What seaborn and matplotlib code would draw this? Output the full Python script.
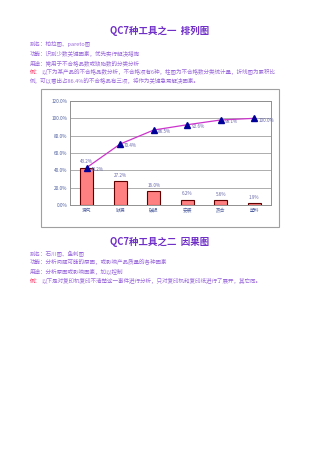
import matplotlib
matplotlib.use("Agg")
import matplotlib.pyplot as plt
import seaborn as sns
import pandas as pd
from matplotlib.patches import Rectangle

sns.set_theme(style="white")
plt.rcParams['font.family'] = ['Noto Sans CJK SC', 'DejaVu Sans']

categories = ["漏气", "缺漏", "破损", "安装", "热合", "塑料"]
bar_values = [43.2, 27.2, 16.0, 6.2, 5.6, 1.9]
cum_values = [43.2, 70.4, 86.5, 92.6, 98.1, 100.0]
y_ticks = [0, 20, 40, 60, 80, 100, 120]

title1 = "QC7种工具之一  排列图"
lines1 = ["别名：柏拉图、pareto图",
          "功能：识别少数关键因素，优先实行解决措施",
          "用途：常用于不合格品数或缺陷数的分类分析"]
ex1a = "以下为某产品的不合格品数分析，不合格项有6种，柱图为不合格数分类统计量，折线图为累积比"
ex1b = "例，可以看出占86.4%的不合格品有三项，将作为关键急需解决因素。"
title2 = "QC7种工具之二  因果图"
lines2 = ["别名：石川图、鱼刺图",
          "功能：分析问题可能的原因，或影响产品质量的各种因素",
          "用途：分析原因或影响因素，加以控制"]
ex2 = "以下是对复印机复印不清楚这一事件进行分析，只对复印机和复印纸进行了展开，其它同。"

W, H = 320, 453
fig = plt.figure(figsize=(W/100, H/100), dpi=100)
fig.patch.set_facecolor("white")

def fy(py):
    return 1 - py / H

def fx(px):
    return px / W

title_c = "#7030C8"
body_c = "#9A6ADB"
red_c = "#FF3060"
fs = 4.0

fig.text(0.5, fy(31), title1, ha="center", va="center", fontsize=6.8,
         fontweight="bold", color=title_c)
for i, t in enumerate(lines1):
    fig.text(fx(30), fy(44 + i * 9.4), t, ha="left", va="center", fontsize=fs, color=body_c)
fig.text(fx(30), fy(72.5), "例：", ha="left", va="center", fontsize=fs, color=red_c)
fig.text(fx(41.5), fy(72.5), ex1a, ha="left", va="center", fontsize=fs, color=body_c)
fig.text(fx(30), fy(81.5), ex1b, ha="left", va="center", fontsize=fs, color=body_c)

fig.text(0.5, fy(242), title2, ha="center", va="center", fontsize=6.8,
         fontweight="bold", color=title_c)
for i, t in enumerate(lines2):
    fig.text(fx(30), fy(253 + i * 9.4), t, ha="left", va="center", fontsize=fs, color=body_c)
fig.text(fx(30), fy(281.5), "例：", ha="left", va="center", fontsize=fs, color=red_c)
fig.text(fx(41.5), fy(281.5), ex2, ha="left", va="center", fontsize=fs, color=body_c)

# outer chart frame
fig.patches.append(Rectangle((fx(41), fy(227)), (279 - 41) / W, (227 - 89) / H,
                             transform=fig.transFigure, fill=False,
                             edgecolor="#A0A0A0", linewidth=0.8))

ax = fig.add_axes([fx(70), fy(205), 201 / W, 104 / H])
df = pd.DataFrame({"cat": categories, "val": bar_values, "cum": cum_values})
sns.barplot(data=df, x="cat", y="val", ax=ax, color="#FF8080", width=0.4,
            edgecolor="#600000", linewidth=0.8, saturation=1)
ax.plot(range(len(categories)), cum_values, color="#CC33CC", linewidth=0.9,
        marker="^", markersize=4, markerfacecolor="#000099",
        markeredgecolor="#000099", zorder=5)

label_c = "#6666AA"
for i, v in enumerate(bar_values):
    ax.text(i, v + 4, f"{v:.1f}%", ha="center", va="bottom", fontsize=3.3, color=label_c)
for i, v in enumerate(cum_values):
    ax.text(i + 0.12, v - 2, f"{v:.1f}%", ha="left", va="center", fontsize=3.3, color=label_c)

ax.set_xlim(-0.5, len(categories) - 0.5)
ax.set_ylim(0, 120)
ax.set_yticks(y_ticks)
ax.set_yticklabels([f"{t:.1f}%" for t in y_ticks])
ax.yaxis.grid(True, color="#A0A0A0", linewidth=0.6)
ax.set_axisbelow(True)
ax.set_xlabel("")
ax.set_ylabel("")
ax.tick_params(axis="both", labelsize=3.4, colors="#5060A0", length=0, pad=2)
for s in ax.spines.values():
    s.set_color("#909090")
    s.set_linewidth(0.7)

fig.savefig("out.png", dpi=100, facecolor="white")
